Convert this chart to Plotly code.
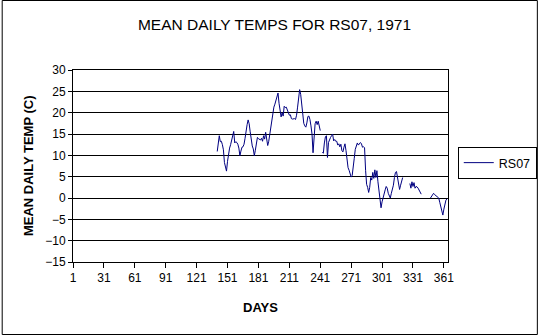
import plotly.graph_objects as go

# ---- data ----
series_name = "RS07"
first_day = 141
# mean daily temperature (C), one value per day starting at first_day; None = missing day
temps = [
    10.9, 13.6, 14.6, 13.2, 13.3, 12.5, 11.3, 8.3, 6.9, 6.3,          # 141-150
    8.6, 10.5, 11.7, 12.5, 13.4, 14.7, 15.6, 12.9, 13.2, 13.0,        # 151-160
    12.6, 11.7, 9.9, 11.0, 11.9, 12.0, 12.6, 14.0, 15.9, 17.2,        # 161-170
    18.3, 17.4, 15.5, 13.5, 12.2, 11.5, 9.9, 11.2, 12.7, 14.2,        # 171-180
    13.9, 13.8, 13.6, 14.0, 13.3, 14.6, 13.8, 15.4, 13.6, 12.3,       # 181-190
    13.3, 14.9, 16.1, 17.6, 20.2, 21.3, 22.0, 22.8, 24.0, 24.6,       # 191-200
    22.2, 19.9, 19.0, 20.0, 19.2, 21.5, 21.2, 21.3, 20.6, 19.7,       # 201-210
    19.4, 19.5, 18.6, 18.5, 18.5, 18.6, 18.4, 19.4, 21.3, 23.2,       # 211-220
    25.4, 24.3, 22.0, 19.6, 17.5, 16.9, 16.6, 17.6, 19.1, 19.2,       # 221-230
    18.4, 16.9, 15.0, 10.6, 15.0, 17.4, 18.0, 17.2, 18.0, 16.4,       # 231-240
    15.8, None, 10.7, 10.5, 12.9, 14.3, 14.6, 9.5, 13.0, 13.9,        # 241-250
    14.2, 14.6, 15.0, 13.4, 13.7, 13.3, 13.3, 12.4, 12.7, 12.0,       # 251-260
    12.6, 11.1, 10.8, 11.9, 12.7, 11.1, 8.8, 7.1, 6.5, 5.7,           # 261-270
    4.9, 5.3, 6.9, 9.3, 11.4, 12.5, 12.9, 12.4, 12.6, 13.0,           # 271-280
    12.7, 11.9, 12.0, 11.8, 6.5, 3.2, 2.5, 1.3, 2.5, 4.8,             # 281-290
    4.2, 6.0, 4.6, 6.6, 4.8, 6.4, 3.8, 2.0, -0.3, -2.3,               # 291-300
    -0.9, 0.3, 1.1, 1.9, 2.7, 2.3, 1.1, 0.6, 0.0, 1.1,                # 301-310
    2.0, 3.0, 4.8, 6.0, 6.2, 4.6, 2.8, 2.0, 3.0, 4.2,                 # 311-320
    4.8, None, None, None, None, None, None, 3.4, 2.3, 3.8,           # 321-330
    2.7, 3.6, 2.3, 2.7, 2.6, 2.3, 1.9, 1.4, 0.9, None,                # 331-340
    None, None, None, None, None, None, None, 0.0, 0.4, 0.9,          # 341-350
    1.1, 0.8, 0.6, 0.3, 0.1, 0.0, -1.0, -2.2, -3.2, -4.0,             # 351-360
    -2.6, -1.3, -0.5, -0.2,                                           # 361-364
]
days = list(range(first_day, first_day + len(temps)))

x_ticks = [1, 31, 61, 91, 121, 151, 181, 211, 241, 271, 301, 331, 361]
y_ticks = [-15, -10, -5, 0, 5, 10, 15, 20, 25, 30]
title_text = "MEAN DAILY TEMPS FOR RS07, 1971"
x_title = "DAYS"
y_title = "MEAN DAILY TEMP (C)"

# ---- layout geometry ----
W, H = 549, 335
ML, MR, MT, MB = 73, 92, 70, 73
PW, PH = W - ML - MR, H - MT - MB
FONT = "Arial, 'Liberation Sans', sans-serif"

fig = go.Figure()
fig.add_trace(go.Scatter(
    x=days, y=temps, mode="lines", name=series_name,
    line=dict(color="#000080", width=1), connectgaps=False,
))

fig.update_layout(
    width=W, height=H,
    margin=dict(l=ML, r=MR, t=MT, b=MB, pad=0),
    paper_bgcolor="white", plot_bgcolor="white",
    font=dict(family=FONT, size=12, color="black"),
    title=dict(text=title_text, x=0.5, xref="container", xanchor="center",
               y=1 - 25 / H, yref="container", yanchor="middle",
               font=dict(family=FONT, size=15.5, color="black")),
    showlegend=True,
    legend=dict(x=(467 - ML) / PW, xanchor="left", y=(262 - 163) / PH, yanchor="middle",
                bordercolor="black", borderwidth=1, bgcolor="white",
                font=dict(family=FONT, size=12.5, color="black")),
    xaxis=dict(range=[1, 365], tickmode="array", tickvals=x_ticks,
               showgrid=False, zeroline=False, showline=True, mirror=True,
               linecolor="black", linewidth=1, ticks="outside", ticklen=5,
               tickcolor="black", tickfont=dict(size=12)),
    yaxis=dict(range=[-15, 30], tickmode="array", tickvals=y_ticks,
               showgrid=True, gridcolor="black", gridwidth=1,
               zeroline=True, zerolinecolor="black", zerolinewidth=1,
               showline=True, mirror=True, linecolor="black", linewidth=1,
               ticks="outside", ticklen=4, tickcolor="black", tickfont=dict(size=12)),
    annotations=[
        dict(text=f"<b>{x_title}</b>", xref="paper", yref="paper",
             x=0.5, y=(262 - 307) / PH, xanchor="center", yanchor="middle",
             showarrow=False, font=dict(size=13)),
        dict(text=f"<b>{y_title}</b>", xref="paper", yref="paper",
             x=(27 - ML) / PW, y=0.5, xanchor="center", yanchor="middle",
             textangle=-90, showarrow=False, font=dict(size=13)),
    ],
    shapes=[dict(type="rect", xref="paper", yref="paper",
                 x0=(0.5 - ML) / PW, x1=(W - 0.5 - ML) / PW,
                 y0=-(MB - 0.5) / PH,
                 y1=(PH + MT - 0.5) / PH,
                 line=dict(color="black", width=1))],
)

fig.write_html("out.html")
